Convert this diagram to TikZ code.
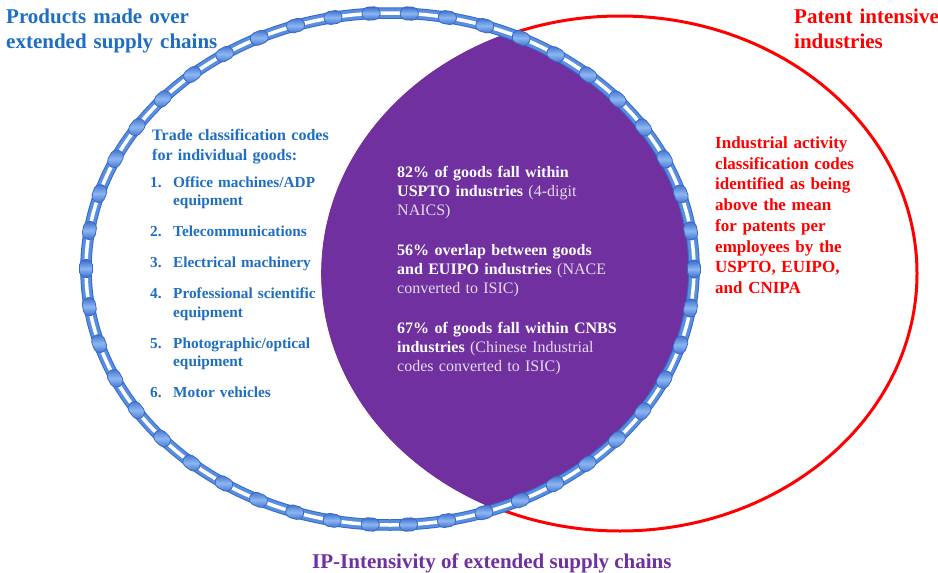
\documentclass[tikz,border=0pt]{standalone}
\usepackage{fontspec}
\setmainfont{Liberation Serif}
\usetikzlibrary{decorations.markings}
\definecolor{txtblue}{RGB}{30,110,195}
\definecolor{vpurple}{RGB}{112,48,160}
\definecolor{chainblue}{RGB}{88,142,226}
\definecolor{chaindark}{RGB}{55,105,200}
\definecolor{chainlight}{RGB}{140,182,242}
\definecolor{redline}{RGB}{255,0,0}
\definecolor{softtxt}{RGB}{228,218,238}
\newcommand\wb[1]{{\color{white}\bfseries #1}}
\tikzset{
  pill/.style={rectangle, rounded corners=5.5pt, minimum width=18pt, minimum height=13pt,
    inner sep=0pt, draw=chaindark, line width=0.8pt,
    top color=chaindark, bottom color=chaindark, middle color=chainlight, transform shape},
  txt/.style={anchor=base west, inner sep=0pt, align=left},
}
\begin{document}
\begin{tikzpicture}[x=1pt,y=-1pt]
\useasboundingbox (0,0) rectangle (938,573);
\fill[white] (0,0) rectangle (938,573);

% red ellipse
\draw[redline, line width=3pt] (620,273.5) ellipse [x radius=297pt, y radius=257.5pt];

% purple intersection
\begin{scope}
  \clip (390,269) ellipse [x radius=304pt, y radius=256pt];
  \fill[vpurple] (620,273.5) ellipse [x radius=297pt, y radius=257.5pt];
  \draw[vpurple, line width=3.6pt] (620,273.5) ellipse [x radius=297pt, y radius=257.5pt];
\end{scope}

% chain
\draw[chaindark, line width=11.5pt] (390,269) ellipse [x radius=304pt, y radius=256pt];
\draw[chainblue, line width=9.5pt] (390,269) ellipse [x radius=304pt, y radius=256pt];
\draw[white, line width=3.5pt] (390,269) ellipse [x radius=304pt, y radius=256pt];
\path[decoration={markings, mark=between positions 0 and 0.99 step 38.3pt with {\node[pill] {};}},
  decorate] (390,269) ellipse [x radius=304pt, y radius=256pt];

% titles
\node[txt, text width=260pt, text=txtblue, font=\fontsize{21}{25}\selectfont\bfseries] (tleft) at (6,23)
  {Products made over\\extended supply chains};
\node[txt, text width=150pt, text=redline, font=\fontsize{21}{25}\selectfont\bfseries] (tright) at (794,23)
  {Patent intensive\\industries};
\node[txt, text=vpurple, font=\fontsize{21}{25}\selectfont\bfseries] (tbottom) at (312,568)
  {IP-Intensivity of extended supply chains};

% left text
\node[txt, text width=220pt, text=txtblue, font=\fontsize{16}{20}\selectfont\bfseries] (lhead) at (152,140)
  {Trade classification codes\\for individual goods:};
\node[txt, text width=220pt, text=txtblue, font=\fontsize{15.3}{18.5}\selectfont\bfseries] (llist) at (150,187)
  {\hangindent=23pt\hangafter=1\noindent\makebox[23pt][l]{1.}Office machines/ADP\newline equipment\par\vspace{12.5pt}
   \hangindent=23pt\hangafter=1\noindent\makebox[23pt][l]{2.}Telecommunications\par\vspace{12.5pt}
   \hangindent=23pt\hangafter=1\noindent\makebox[23pt][l]{3.}Electrical machinery\par\vspace{12.5pt}
   \hangindent=23pt\hangafter=1\noindent\makebox[23pt][l]{4.}Professional scientific\newline equipment\par\vspace{12.5pt}
   \hangindent=23pt\hangafter=1\noindent\makebox[23pt][l]{5.}Photographic/optical\newline equipment\par\vspace{12.5pt}
   \hangindent=23pt\hangafter=1\noindent\makebox[23pt][l]{6.}Motor vehicles\par};

% center text
\node[txt, text width=250pt, text=softtxt, font=\fontsize{16}{19}\selectfont] (center) at (397,177)
  {\wb{82\% of goods fall within}\\
   \wb{USPTO industries} (4-digit\\
   NAICS)\\[21pt]
   \wb{56\% overlap between goods}\\
   \wb{and EUIPO industries} (NACE\\
   converted to ISIC)\\[21pt]
   \wb{67\% of goods fall within CNBS}\\
   \wb{industries} (Chinese Industrial\\
   codes converted to ISIC)};

% right text
\node[txt, text width=200pt, text=redline, font=\fontsize{17}{20.7}\selectfont\bfseries] (rtext) at (715,148.5)
  {Industrial activity\\classification codes\\identified as being\\above the mean\\for patents per\\employees by the\\USPTO, EUIPO,\\and CNIPA};
\end{tikzpicture}
\end{document}
